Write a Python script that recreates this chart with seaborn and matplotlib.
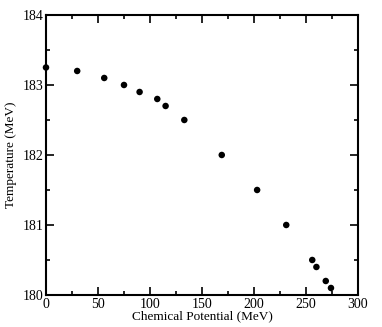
import matplotlib
matplotlib.use('Agg')
import matplotlib.pyplot as plt
import numpy as np
import pandas as pd
import seaborn as sns
from matplotlib.ticker import MultipleLocator

mu = [0, 30, 56, 75, 90, 107, 115, 133, 169, 203, 231, 256, 260, 269, 274]
temp = [183.25, 183.2, 183.1, 183.0, 182.9, 182.8, 182.7, 182.5, 182.0,
        181.5, 181.0, 180.5, 180.4, 180.2, 180.1]

df = pd.DataFrame({'mu': mu, 'T': temp})

sns.set_style('ticks', {'axes.edgecolor': 'black', 'text.color': 'black',
                        'xtick.color': 'black', 'ytick.color': 'black',
                        'axes.labelcolor': 'black'})
plt.rcParams['font.family'] = ['Liberation Serif', 'DejaVu Serif']

fig = plt.figure(figsize=(3.82, 3.27), dpi=100)
ax = fig.add_axes([0.1204, 0.0979, 0.8168, 0.8563])
sns.scatterplot(data=df, x='mu', y='T', color='black', s=22, edgecolor='none',
                ax=ax, clip_on=False, zorder=3)

ax.set_xlim(0, 300)
ax.set_ylim(180, 184)
ax.xaxis.set_major_locator(MultipleLocator(50))
ax.xaxis.set_minor_locator(MultipleLocator(25))
ax.yaxis.set_major_locator(MultipleLocator(1))
ax.yaxis.set_minor_locator(MultipleLocator(0.5))
ax.tick_params(which='both', direction='in', top=True, right=True, labelsize=10,
               width=1.2, pad=2)
ax.tick_params(which='major', length=6)
ax.tick_params(which='minor', length=3)
for s in ax.spines.values():
    s.set_linewidth(1.5)
ax.set_xlabel('Chemical Potential (MeV)', fontsize=9.5, labelpad=0)
ax.set_ylabel('Temperature (MeV)', fontsize=9.5, labelpad=4)

fig.savefig('out.png', dpi=100)
